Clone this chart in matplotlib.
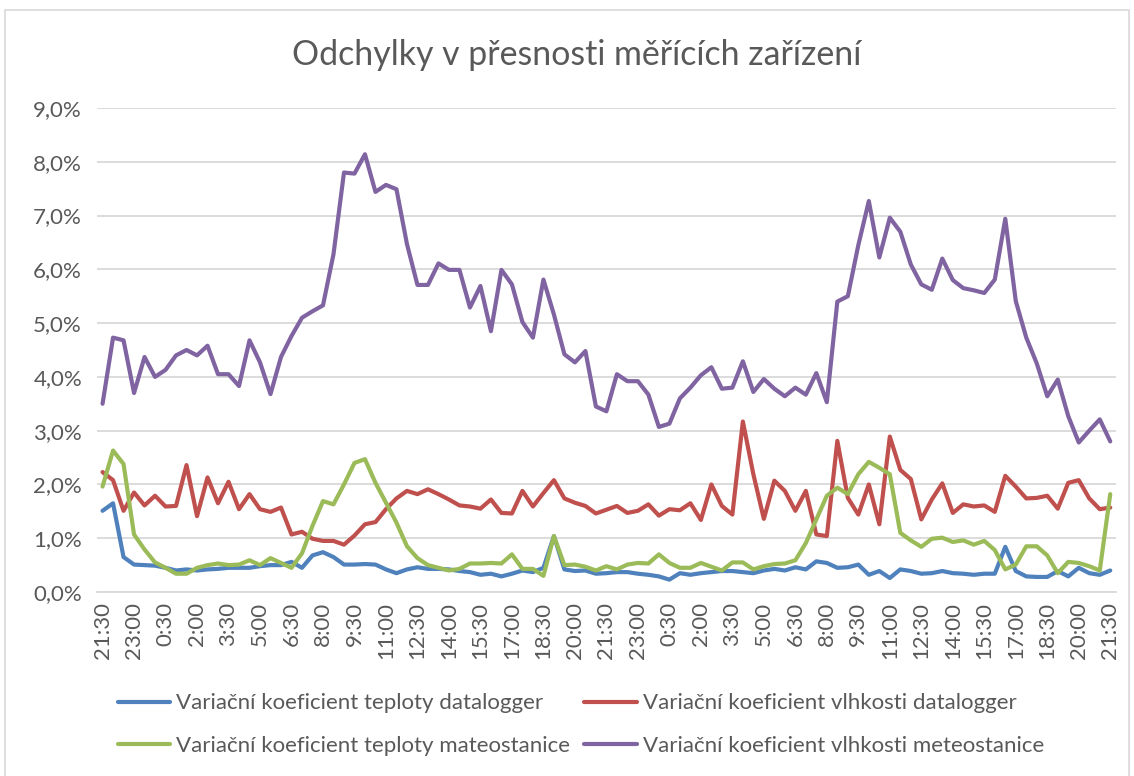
import matplotlib.pyplot as plt
from matplotlib.patches import Rectangle
from matplotlib.ticker import FuncFormatter, FixedLocator

plt.rcParams['font.family'] = ['Lato', 'DejaVu Sans']

# tick labels on the x axis (every third 30-minute sample)
tick_labels = ['21:30', '23:00', '0:30', '2:00', '3:30', '5:00', '6:30', '8:00',
               '9:30', '11:00', '12:30', '14:00', '15:30', '17:00', '18:30', '20:00',
               '21:30', '23:00', '0:30', '2:00', '3:30', '5:00', '6:30', '8:00',
               '9:30', '11:00', '12:30', '14:00', '15:30', '17:00', '18:30', '20:00',
               '21:30']

# values in percent
teplota_datalogger = [
    1.51, 1.65, 0.65, 0.51, 0.50, 0.49, 0.45, 0.40, 0.42, 0.40, 0.42, 0.43, 0.45, 0.45, 0.45, 0.48,
    0.50, 0.50, 0.56, 0.45, 0.68, 0.74, 0.65, 0.51, 0.51, 0.52, 0.51, 0.42, 0.35, 0.42, 0.46, 0.43,
    0.43, 0.42, 0.39, 0.37, 0.32, 0.34, 0.29, 0.34, 0.40, 0.37, 0.45, 1.04, 0.42, 0.39, 0.40, 0.34,
    0.35, 0.37, 0.37, 0.34, 0.32, 0.29, 0.23, 0.35, 0.32, 0.35, 0.37, 0.39, 0.39, 0.37, 0.35, 0.40,
    0.43, 0.40, 0.46, 0.42, 0.57, 0.54, 0.45, 0.46, 0.51, 0.32, 0.39, 0.26, 0.42, 0.39, 0.34, 0.35,
    0.39, 0.35, 0.34, 0.32, 0.34, 0.34, 0.84, 0.39, 0.29, 0.28, 0.28, 0.39, 0.29, 0.45, 0.35, 0.32,
    0.40]

vlhkost_datalogger = [
    2.23, 2.08, 1.51, 1.85, 1.61, 1.79, 1.59, 1.60, 2.36, 1.41, 2.13, 1.65, 2.05, 1.54, 1.82, 1.54,
    1.49, 1.57, 1.07, 1.12, 0.99, 0.95, 0.95, 0.88, 1.05, 1.26, 1.30, 1.54, 1.74, 1.88, 1.82, 1.91,
    1.82, 1.72, 1.61, 1.59, 1.55, 1.72, 1.47, 1.46, 1.88, 1.59, 1.84, 2.08, 1.74, 1.66, 1.60, 1.46,
    1.53, 1.60, 1.47, 1.51, 1.63, 1.42, 1.54, 1.52, 1.65, 1.34, 2.00, 1.60, 1.44, 3.17, 2.19, 1.36,
    2.07, 1.88, 1.51, 1.88, 1.07, 1.04, 2.81, 1.75, 1.44, 2.00, 1.26, 2.89, 2.27, 2.10, 1.35, 1.72,
    2.02, 1.47, 1.63, 1.59, 1.61, 1.49, 2.16, 1.96, 1.74, 1.75, 1.79, 1.55, 2.03, 2.08, 1.74, 1.54,
    1.57]

teplota_meteostanice = [
    1.96, 2.63, 2.38, 1.07, 0.79, 0.55, 0.45, 0.34, 0.34, 0.45, 0.50, 0.53, 0.50, 0.51, 0.59, 0.50,
    0.63, 0.54, 0.45, 0.72, 1.23, 1.69, 1.63, 2.00, 2.40, 2.47, 2.03, 1.66, 1.29, 0.85, 0.63, 0.50,
    0.45, 0.40, 0.43, 0.53, 0.53, 0.54, 0.53, 0.70, 0.43, 0.43, 0.30, 1.04, 0.50, 0.51, 0.47, 0.40,
    0.48, 0.42, 0.51, 0.54, 0.53, 0.70, 0.54, 0.45, 0.45, 0.54, 0.47, 0.40, 0.55, 0.55, 0.42, 0.48,
    0.52, 0.53, 0.59, 0.91, 1.35, 1.79, 1.94, 1.82, 2.19, 2.42, 2.31, 2.19, 1.10, 0.96, 0.84, 0.99,
    1.01, 0.93, 0.96, 0.88, 0.95, 0.78, 0.42, 0.51, 0.85, 0.85, 0.68, 0.35, 0.56, 0.54, 0.48, 0.40,
    1.82]

vlhkost_meteostanice = [
    3.50, 4.73, 4.68, 3.70, 4.37, 4.00, 4.13, 4.40, 4.50, 4.40, 4.58, 4.05, 4.05, 3.83, 4.68, 4.27,
    3.68, 4.37, 4.76, 5.10, 5.22, 5.33, 6.28, 7.80, 7.78, 8.14, 7.44, 7.57, 7.49, 6.47, 5.71, 5.71,
    6.11, 5.99, 5.99, 5.29, 5.69, 4.85, 5.99, 5.72, 5.02, 4.73, 5.81, 5.16, 4.42, 4.27, 4.48, 3.45,
    3.36, 4.05, 3.92, 3.92, 3.67, 3.07, 3.13, 3.60, 3.80, 4.03, 4.18, 3.78, 3.80, 4.29, 3.72, 3.96,
    3.78, 3.64, 3.80, 3.67, 4.07, 3.53, 5.40, 5.50, 6.45, 7.27, 6.22, 6.96, 6.70, 6.09, 5.72, 5.62,
    6.20, 5.80, 5.65, 5.61, 5.56, 5.81, 6.94, 5.41, 4.73, 4.25, 3.64, 3.95, 3.27, 2.78, 3.00, 3.21,
    2.80]

series = [
    (teplota_datalogger, 'Variační koeficient teploty datalogger', '#4F81BD'),
    (vlhkost_datalogger, 'Variační koeficient vlhkosti datalogger', '#C0504D'),
    (teplota_meteostanice, 'Variační koeficient teploty mateostanice', '#9BBB59'),
    (vlhkost_meteostanice, 'Variační koeficient vlhkosti meteostanice', '#8064A2'),
]

text_color = '#595959'
grid_color = '#D9D9D9'

fig = plt.figure(figsize=(11.34, 7.76), dpi=100)
ax = fig.add_axes([97.3 / 1134, 1 - 592 / 776, (1115.5 - 97.3) / 1134, (592 - 108) / 776])

# chart border
fig.patches.append(Rectangle((5 / 1134, -0.01), 1124 / 1134, 1 - 10 / 776 + 0.01,
                             transform=fig.transFigure, fill=False,
                             edgecolor=grid_color, linewidth=1.2))

lines = []
for values, label, color in series:
    x = list(range(len(values)))
    ln, = ax.plot(x, values, color=color, linewidth=3.0, label=label,
                  solid_joinstyle='round', solid_capstyle='round')
    lines.append(ln)

ax.set_xlim(-0.5, len(vlhkost_meteostanice) - 0.5)
ax.set_ylim(0, 9)
ax.yaxis.set_major_locator(FixedLocator(range(0, 10)))
ax.yaxis.set_major_formatter(FuncFormatter(lambda v, p: f'{v:.1f}'.replace('.', ',') + '%'))
ax.set_xticks(range(0, len(vlhkost_meteostanice), 3))
ax.set_xticklabels(tick_labels, rotation=90)

ax.grid(axis='y', color=grid_color, linewidth=1.3)
ax.set_axisbelow(True)
for side in ['top', 'right', 'left']:
    ax.spines[side].set_visible(False)
ax.spines['bottom'].set_color(grid_color)
ax.spines['bottom'].set_linewidth(1.3)
ax.tick_params(axis='both', length=0, labelsize=16, colors=text_color)
ax.tick_params(axis='y', pad=11)
ax.tick_params(axis='x', pad=7)

fig.text(577 / 1134, 1 - 55 / 776, 'Odchylky v přesnosti měřících zařízení',
         ha='center', va='center', fontsize=24.4, color=text_color)

order = [0, 2, 1, 3]
leg = fig.legend([lines[i] for i in order], [series[i][1] for i in order],
                 ncol=2, loc='center', bbox_to_anchor=(581 / 1134, 1 - 724.5 / 776),
                 frameon=False, fontsize=16, handlelength=2.35, handletextpad=0.27,
                 columnspacing=0.63, labelspacing=1.0)
for t in leg.get_texts():
    t.set_color(text_color)

fig.savefig('out.png', dpi=100)
